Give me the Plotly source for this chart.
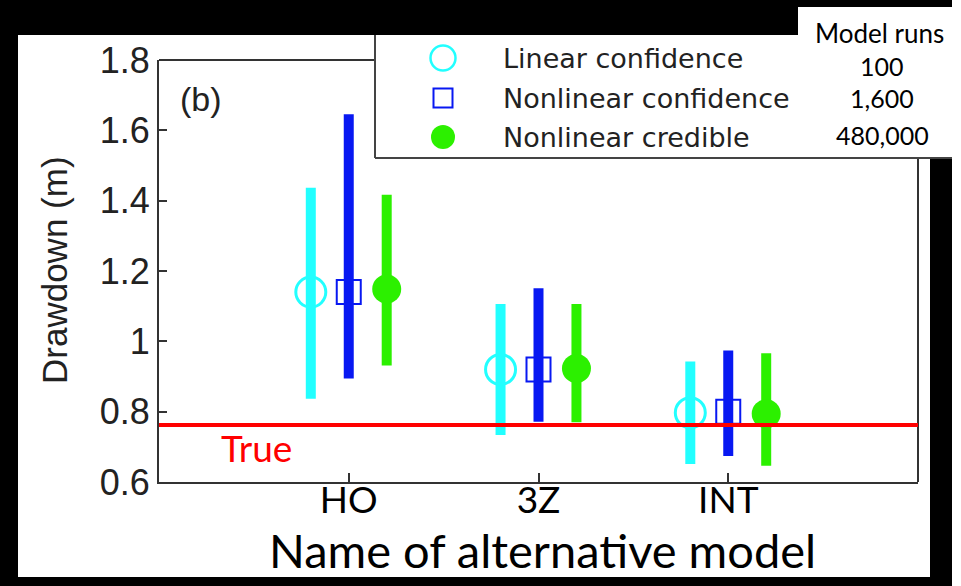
import plotly.graph_objects as go

# ---- data -------------------------------------------------------------
categories = ["HO", "3Z", "INT"]
series_names = ["Linear confidence", "Nonlinear confidence", "Nonlinear credible"]
model_runs = [100, 1600, 480000]

linear_mid = [1.14, 0.92, 0.797]
linear_lo = [0.837, 0.734, 0.651]
linear_hi = [1.437, 1.106, 0.943]

nlconf_mid = [1.14, 0.92, 0.80]
nlconf_lo = [0.894, 0.771, 0.674]
nlconf_hi = [1.646, 1.151, 0.974]

cred_mid = [1.149, 0.923, 0.794]
cred_lo = [0.931, 0.77, 0.646]
cred_hi = [1.417, 1.106, 0.966]

true_value = 0.762

# ---- page geometry (pixels) -------------------------------------------
W, H = 961, 586
L, R, T, B = 159, 918, 60, 482   # frame of the main axes


def fx(px):
    return px / W


def fy(py):
    return (H - py) / H


CYAN = "#22FFFF"
BLUE = "#0818F2"
GREEN = "#2CF000"
RED = "#FF0000"
AXIS = "#333333"
HELV = "Liberation Sans, Arial, sans-serif"
SANS = "Lato, Open Sans, sans-serif"

styles = [
    dict(color=CYAN, symbol="circle-open", size=30, lw=3, key_size=25, key_lw=2.5, offset=-0.2),
    dict(color=BLUE, symbol="square-open", size=24, lw=2, key_size=19, key_lw=2, offset=0.0),
    dict(color=GREEN, symbol="circle", size=29, lw=0, key_size=24, key_lw=0, offset=0.2),
]
mids = [linear_mid, nlconf_mid, cred_mid]
los = [linear_lo, nlconf_lo, cred_lo]
his = [linear_hi, nlconf_hi, cred_hi]

fig = go.Figure()
xpos = list(range(1, len(categories) + 1))

for name, st, mid, lo, hi in zip(series_names, styles, mids, los, his):
    fig.add_trace(go.Scatter(
        x=[p + st["offset"] for p in xpos],
        y=mid,
        mode="markers",
        name=name,
        showlegend=False,
        marker=dict(symbol=st["symbol"], size=st["size"], color=st["color"],
                    line=dict(color=st["color"], width=st["lw"])),
        error_y=dict(type="data", symmetric=False,
                     array=[h - m for h, m in zip(hi, mid)],
                     arrayminus=[m - l for m, l in zip(mid, lo)],
                     color=st["color"], thickness=10, width=0),
    ))

# legend key symbols on a page-pixel axis pair covering the whole figure
key_x = 443
key_y = [58, 98, 137]
for name, st, ky in zip(series_names, styles, key_y):
    fig.add_trace(go.Scatter(
        x=[key_x], y=[ky], xaxis="x3", yaxis="y3", mode="markers",
        showlegend=False, hoverinfo="skip",
        marker=dict(symbol=st["symbol"], size=st["key_size"], color=st["color"],
                    line=dict(color=st["color"], width=st["key_lw"])),
    ))

shapes = [
    # black surround with white panels
    dict(type="rect", xref="paper", yref="paper", layer="below",
         x0=fx(0), x1=fx(952), y0=fy(586), y1=fy(0),
         fillcolor="black", line=dict(width=0)),
    dict(type="rect", xref="paper", yref="paper", layer="below",
         x0=fx(18), x1=fx(930), y0=fy(577), y1=fy(35),
         fillcolor="white", line=dict(width=0)),
    dict(type="rect", xref="paper", yref="paper", layer="below",
         x0=fx(798), x1=fx(952), y0=fy(158), y1=fy(7),
         fillcolor="white", line=dict(width=0)),
    # visible parts of the top and right frame
    dict(type="line", xref="paper", yref="paper", layer="above",
         x0=fx(L), x1=fx(375), y0=fy(T), y1=fy(T), line=dict(color=AXIS, width=2)),
    dict(type="line", xref="paper", yref="paper", layer="above",
         x0=fx(R), x1=fx(R), y0=fy(B), y1=fy(158), line=dict(color=AXIS, width=2)),
    # legend box edges
    dict(type="line", xref="paper", yref="paper", layer="above",
         x0=fx(375), x1=fx(375), y0=fy(158), y1=fy(35), line=dict(color="#444444", width=2)),
    dict(type="line", xref="paper", yref="paper", layer="above",
         x0=fx(375), x1=fx(952), y0=fy(158), y1=fy(158), line=dict(color="#444444", width=2)),
    # true drawdown
    dict(type="line", xref="x domain", yref="y", layer="above",
         x0=0, x1=1, y0=true_value, y1=true_value, line=dict(color=RED, width=4)),
]

annotations = [
    dict(text="(b)", x=fx(201), y=fy(99), font=dict(family=HELV, size=34, color="#222222")),
    dict(text="Drawdown (m)", x=fx(54), y=fy(270), textangle=-90,
         font=dict(family=HELV, size=35, color="#222222")),
    dict(text="Name of alternative model", x=fx(542), y=fy(550),
         font=dict(family=SANS, size=47, color="black")),
    dict(text="True", x=fx(256), y=fy(447), font=dict(family=SANS, size=37, color=RED)),
    dict(text="Model runs", x=fx(879), y=fy(33), font=dict(family=SANS, size=26, color="black")),
]
for name, ky in zip(series_names, key_y):
    annotations.append(dict(text=name, x=fx(501), y=fy(ky), xanchor="left",
                            font=dict(family="DejaVu Sans", size=27, color="#222222")))
for runs, ky in zip(model_runs, [66, 98, 135]):
    annotations.append(dict(text=f"{runs:,}", x=fx(882), y=fy(ky),
                            font=dict(family=SANS, size=25, color="black")))
for a in annotations:
    a.setdefault("xref", "paper")
    a.setdefault("yref", "paper")
    a.setdefault("showarrow", False)
    a.setdefault("xanchor", "center")
    a.setdefault("yanchor", "middle")

main_xdom = [fx(L), fx(R)]
main_ydom = [fy(B), fy(T)]

fig.update_layout(
    template="none",
    width=W, height=H,
    margin=dict(l=0, r=0, t=0, b=0, pad=0),
    paper_bgcolor="white",
    plot_bgcolor="rgba(0,0,0,0)",
    showlegend=False,
    hovermode=False,
    shapes=shapes,
    annotations=annotations,
    xaxis=dict(domain=main_xdom, anchor="y", range=[0, 4], tickmode="array",
               tickvals=xpos, ticktext=categories,
               ticks="inside", ticklen=9, tickwidth=2, tickcolor=AXIS,
               showline=True, linecolor=AXIS, linewidth=2, showgrid=False, zeroline=False,
               automargin=False, ticklabelstandoff=-15,
               tickfont=dict(family=SANS, size=37, color="black"), fixedrange=True),
    yaxis=dict(domain=main_ydom, anchor="x", range=[0.6, 1.8], dtick=0.2, tick0=0.6,
               ticks="inside", ticklen=8, tickwidth=2, tickcolor=AXIS,
               showline=True, linecolor=AXIS, linewidth=2, showgrid=False, zeroline=False,
               automargin=False, ticklabelstandoff=0,
               tickfont=dict(family=HELV, size=36, color="#222222"), fixedrange=True),
    yaxis2=dict(overlaying="y", side="right", anchor="x", range=[0.6, 1.8],
                tickmode="array", tickvals=[0.8, 1.0, 1.2, 1.4],
                ticks="inside", ticklen=8, tickwidth=2, tickcolor=AXIS,
                showticklabels=False, showline=False, showgrid=False, zeroline=False,
                automargin=False, fixedrange=True),
    xaxis2=dict(overlaying="x", side="top", anchor="y", range=[0, 4],
                tickmode="array", tickvals=[1],
                ticks="inside", ticklen=9, tickwidth=2, tickcolor=AXIS,
                showticklabels=False, showline=False, showgrid=False, zeroline=False,
                automargin=False, fixedrange=True),
    xaxis3=dict(domain=[0, 1], anchor="y3", range=[0, W], visible=False, fixedrange=True),
    yaxis3=dict(domain=[0, 1], anchor="x3", range=[H, 0], visible=False, fixedrange=True),
)

fig.write_html("out.html")
